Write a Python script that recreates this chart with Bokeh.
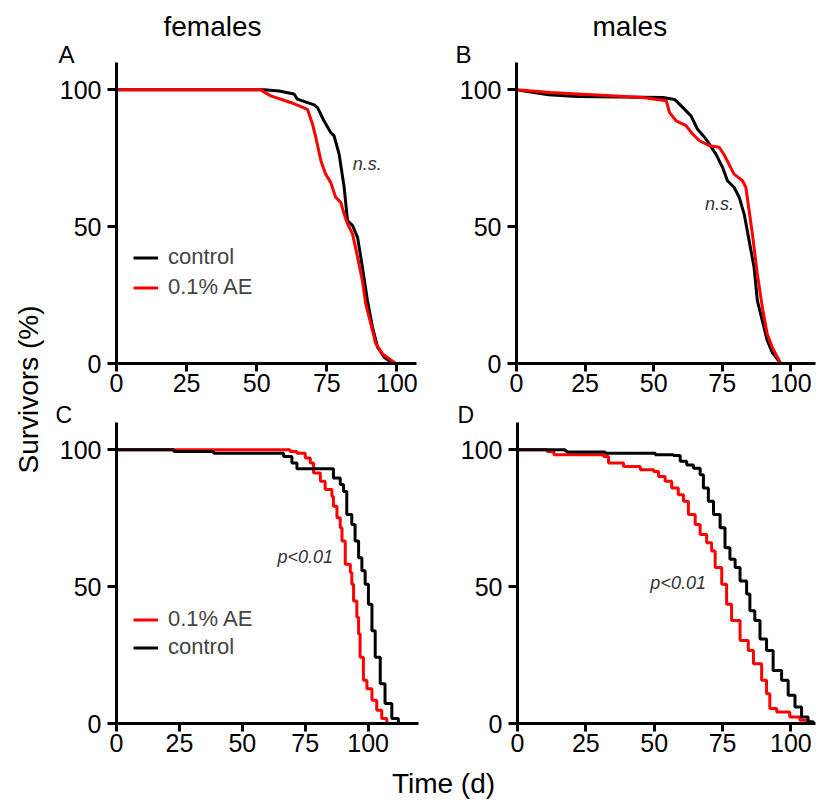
import numpy as np
from bokeh.plotting import figure
from bokeh.models import Range1d, FixedTicker, Label, Legend, LegendItem, Title
from bokeh.layouts import row, column
from bokeh.embed import file_html
from bokeh.resources import INLINE
from bokeh.core.properties import value

FONT = "Liberation Sans"
RED = "#ff0000"
BLACK = "#000000"

# ---------------- data ----------------
# Panel A - females
a_ctrl_x = [0, 52.6, 58, 63.3, 64.5, 70.5, 71.7, 74, 76.4, 77.6, 79.4, 81.2, 82.4, 84.2, 86, 87.7, 89.5, 91.3, 93.1, 95.5, 98.5]
a_ctrl_y = [100, 100, 99.6, 98.5, 96.6, 94.5, 93.5, 88.7, 84.4, 83.2, 76.5, 64.4, 52.2, 50.4, 46, 35.2, 23, 13.3, 6, 2.3, 0]
a_ae_x = [0, 51.4, 55, 62.1, 68.1, 69.9, 71.1, 72.9, 74.6, 76.4, 78.2, 80, 81.2, 82.4, 84.2, 86, 87.7, 88.9, 90.7, 92.5, 94.9, 99.6]
a_ae_y = [100, 100, 97.8, 95.4, 92.9, 87.5, 82.6, 74.1, 69.2, 66.2, 60.7, 58.9, 54.6, 51, 47.3, 38.8, 30.3, 21.8, 14.5, 7.2, 3.5, 0]

# Panel B - males
b_ctrl_x = [0, 11.7, 22, 53.4, 57.6, 59.4, 63.6, 66, 69.1, 72.7, 75.1, 76.9, 79.3, 81.2, 83, 84.8, 86.6, 87.8, 89.6, 91.4, 93.2, 95, 96.3]
b_ctrl_y = [100, 98.2, 97.6, 97.2, 96.5, 94.8, 90.5, 85.6, 82, 76.5, 71.7, 66.8, 64.4, 60.7, 54.6, 44.9, 35.2, 23, 15.7, 8.4, 4.1, 1.7, 0]
b_ae_x = [0, 12.3, 46.1, 54.6, 55.8, 58.2, 61.8, 64.3, 66.7, 70.3, 73.9, 75.7, 79.3, 82.4, 83.6, 86, 87.8, 89.6, 91.4, 93.2, 96.3]
b_ae_y = [100, 99, 97.2, 96, 91.7, 88.7, 86.9, 83.8, 81.4, 79.6, 79, 76.3, 69.2, 66.8, 64.4, 47.3, 32.7, 20.6, 10.8, 6, 0]

# Panel C - females
c_ctrl_x = [0, 22.8, 38.6, 62.4, 66.4, 69.7, 71.7, 80.3, 86.2, 88.9, 90.2, 91.5, 93.5, 94.8, 96.2, 97.5, 98.8, 100.1, 101.5, 102.8, 104.8, 106.7, 109.4, 112]
c_ctrl_y = [100, 99.4, 98.8, 98.8, 97.6, 95.2, 93.1, 93.1, 89.7, 87.3, 84.8, 76.4, 72.7, 66.7, 60.6, 55.8, 50.9, 43.6, 33.9, 24.2, 14.5, 7.3, 1.8, 0]
c_ae_x = [0, 69, 71.7, 75, 77, 78.3, 81, 82.9, 85.6, 86.2, 87.6, 88.9, 89.6, 90.9, 92.9, 93.5, 94.2, 95.5, 96.2, 96.8, 98.1, 99.5, 101.5, 103.4, 105.4, 107.4]
c_ae_y = [100, 99.4, 98.8, 97, 95.2, 91.5, 88.5, 85.5, 83, 79.4, 75.2, 71.5, 66.7, 58.2, 55.2, 50.9, 44.8, 38.8, 32.7, 24.2, 15.8, 12.7, 8.5, 4.8, 1.8, 0]

# Panel D - males
d_ctrl_x = [0, 17.5, 18.1, 32.1, 50.4, 57, 59.5, 61.9, 64.4, 66.8, 68, 69.8, 71.7, 74.1, 75.9, 77.7, 79.6, 81.4, 83.8, 85, 86.8, 88.7, 91.1, 93.5, 96.6, 99, 101.5, 103.9, 106.3, 108.2]
d_ctrl_y = [100, 99.6, 99.2, 98.8, 98.2, 97.9, 95.8, 94.5, 93.3, 90.9, 86.1, 81.2, 76.4, 71.5, 64.2, 60, 57, 52.1, 47.3, 41.2, 37.6, 30.9, 26.7, 19.4, 15.8, 10.3, 6, 2.4, 0.6, 0]
d_ae_x = [0, 10.8, 13.3, 31.5, 33.3, 38.8, 44.9, 49.8, 51.6, 54, 56.4, 58.8, 60.7, 62.5, 65, 66.8, 69.2, 71, 72.3, 74.7, 76.5, 78.3, 81.4, 84.4, 86.3, 89.3, 91.1, 92.3, 94.8, 99.6, 103.3, 106.3]
d_ae_y = [100, 99.4, 98.2, 97.6, 95.2, 93.9, 92.7, 92.1, 90.3, 88.5, 86.1, 83.6, 81.2, 76.4, 72.7, 69.1, 66.1, 63, 57, 50.9, 43.6, 37.6, 30.3, 26.7, 21.8, 15.8, 10.9, 5.5, 4.2, 2.4, 1.2, 0]

x_ticks = [0, 25, 50, 75, 100]
y_ticks = [0, 50, 100]
ctrl_label = "control"
ae_label = "0.1% AE"


def make_panel(xmax, frame_w, left, right, top, bottom):
    p = figure(frame_width=frame_w, frame_height=301,
               x_range=Range1d(0, xmax), y_range=Range1d(0, 110),
               toolbar_location=None, output_backend="svg",
               min_border_left=left, min_border_right=right,
               min_border_top=top, min_border_bottom=bottom)
    p.grid.visible = False
    p.outline_line_color = None
    p.background_fill_color = "white"
    p.border_fill_color = "white"
    p.xaxis.ticker = FixedTicker(ticks=x_ticks)
    p.yaxis.ticker = FixedTicker(ticks=y_ticks)
    for ax in (p.xaxis[0], p.yaxis[0]):
        ax.axis_line_width = 3
        ax.axis_line_color = BLACK
        ax.major_tick_line_width = 3
        ax.major_tick_line_color = BLACK
        ax.major_tick_in = 0
        ax.minor_tick_line_color = None
        ax.major_label_text_font = FONT
        ax.major_label_text_font_size = "25px"
        ax.major_label_text_color = BLACK
    p.xaxis.major_tick_out = 8
    p.xaxis.major_label_standoff = 2
    p.yaxis.major_tick_out = 9
    p.yaxis.major_label_standoff = 6
    return p


def add_title(p, text, size, offset, standoff):
    p.add_layout(Title(text=text, align="left", offset=offset, standoff=standoff,
                       text_font=FONT, text_font_size=size, text_font_style="normal",
                       text_color=BLACK, vertical_align="bottom"), "above")


def add_note(p, x, y, text):
    p.add_layout(Label(x=x, y=y, text=text, text_font=FONT, text_font_size="18px",
                       text_font_style="italic", text_align="left",
                       text_baseline="middle", text_color="#333333"))


def make_legend(items, spacing):
    return Legend(items=items, location=(17, 63), orientation="vertical",
                  label_text_font=FONT, label_text_font_size="22px",
                  glyph_width=25, glyph_height=25, label_height=25, label_standoff=10,
                  spacing=spacing, padding=0, margin=0, border_line_color=None,
                  background_fill_alpha=0)


# Panel A
pa = make_panel(107, 300, 60, 34, 62, 38)
ra_c = pa.line(a_ctrl_x, a_ctrl_y, line_color=BLACK, line_width=3)
ra_r = pa.line(a_ae_x, a_ae_y, line_color=RED, line_width=3)
add_title(pa, "A", "24px", -58, -10)
add_title(pa, "females", "28px", 47, 3)
add_note(pa, 84.3, 73, "n.s.")
pa.add_layout(make_legend([LegendItem(label=ctrl_label, renderers=[ra_c]),
                           LegendItem(label=ae_label, renderers=[ra_r])], 4))

# Panel B
pb = make_panel(109, 299, 66, 1, 62, 38)
pb.line(b_ctrl_x, b_ctrl_y, line_color=BLACK, line_width=3)
pb.line(b_ae_x, b_ae_y, line_color=RED, line_width=3)
add_title(pb, "B", "24px", -61, -10)
add_title(pb, "males", "28px", 76, 3)
add_note(pb, 68.7, 58.4, "n.s.")

# Panel C
pc = make_panel(120, 302, 60, 33, 21, 40)
rc_r = pc.step(c_ae_x, c_ae_y, mode="after", line_color=RED, line_width=3)
rc_c = pc.step(c_ctrl_x, c_ctrl_y, mode="after", line_color=BLACK, line_width=3)
add_title(pc, "C", "23px", -61, -10)
add_note(pc, 64, 60.7, "p<0.01")
pc.add_layout(make_legend([LegendItem(label=ae_label, renderers=[rc_r]),
                           LegendItem(label=ctrl_label, renderers=[rc_c])], 2))

# Panel D
pd_ = make_panel(109, 298, 66, 1, 21, 40)
pd_.step(d_ae_x, d_ae_y, mode="after", line_color=RED, line_width=3)
pd_.step(d_ctrl_x, d_ctrl_y, mode="after", line_color=BLACK, line_width=3)
add_title(pd_, "D", "23px", -60, -10)
add_note(pd_, 48.6, 51.2, "p<0.01")


def blank(w, h):
    f = figure(width=w, height=h, x_range=Range1d(0, w), y_range=Range1d(0, h),
               toolbar_location=None, output_backend="svg", min_border=0)
    f.axis.visible = False
    f.grid.visible = False
    f.outline_line_color = None
    return f


LEFT_W = 56
TOTAL_H = 803
left_fig = blank(LEFT_W, TOTAL_H)
left_fig.text(x=[28], y=[TOTAL_H - 389], text=["Survivors (%)"], angle=np.pi / 2,
              text_align="center", text_baseline="alphabetic",
              text_font=value(FONT), text_font_size="28px", text_color=BLACK)

bottom_fig = blank(760, 40)
bottom_fig.text(x=[443 - LEFT_W], y=[20], text=["Time (d)"], text_align="center",
                text_baseline="middle", text_font=value(FONT),
                text_font_size="28px", text_color=BLACK)

layout = row(left_fig, column(row(pa, pb), row(pc, pd_), bottom_fig))

open("out.html", "w").write(file_html(layout, INLINE))
